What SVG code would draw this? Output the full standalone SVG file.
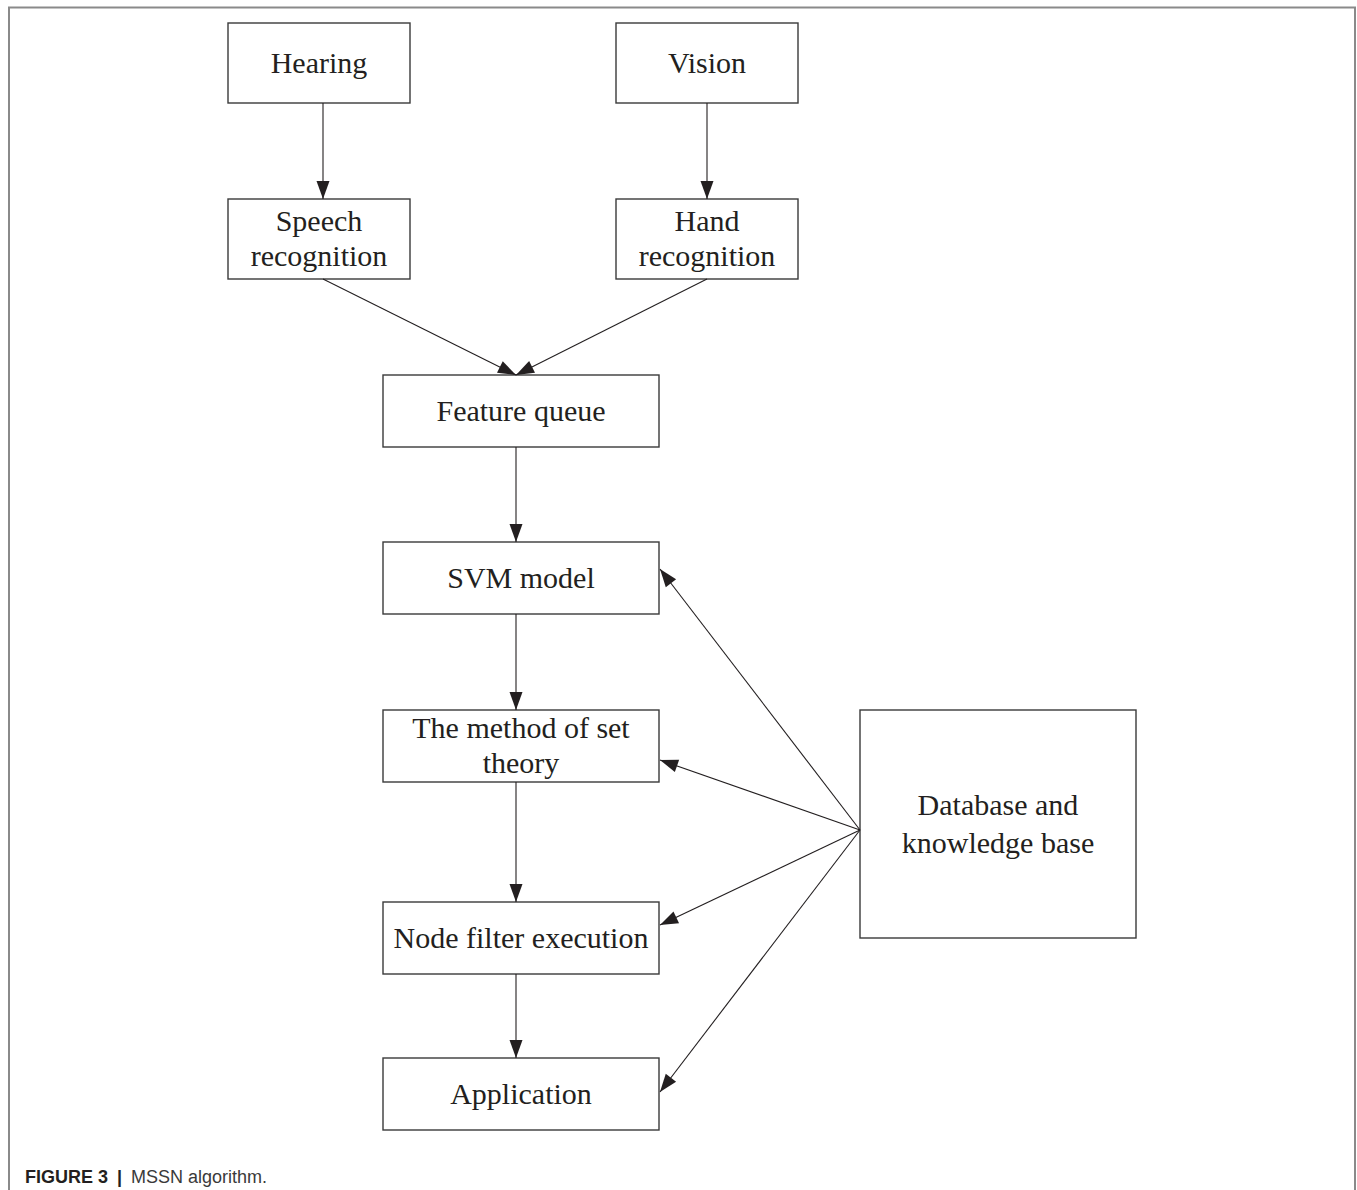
<svg xmlns="http://www.w3.org/2000/svg" width="1357" height="1190" viewBox="0 0 1357 1190">
<style>
.box{fill:#fff;stroke:#3a3a3a;stroke-width:1.4}
.lbl{font-family:"Liberation Serif","Times New Roman",serif;font-size:30px;fill:#231f20;text-anchor:middle}
.conn line{stroke:#231f20;stroke-width:1.1;marker-end:url(#ah)}
.frame{stroke:#8a8a8a;stroke-width:2;fill:none}
.cap{font-family:"Liberation Sans",Arial,sans-serif;font-size:18px;fill:#231f20}
</style>
<defs>
<marker id="ah" markerUnits="userSpaceOnUse" markerWidth="20" markerHeight="14" refX="18" refY="6.5" orient="auto" overflow="visible">
<path d="M0,0 L18,6.5 L0,13 z" fill="#231f20"/>
</marker>
</defs>
<rect width="1357" height="1190" fill="#fff"/>
<path class="frame" d="M9,1190 V7.5 H1355 V1190"/>
<g id="hearing"><rect class="box" x="228" y="23" width="182" height="80"/><text class="lbl" x="319" y="73">Hearing</text></g>
<g id="vision"><rect class="box" x="616" y="23" width="182" height="80"/><text class="lbl" x="707" y="73">Vision</text></g>
<g id="speech"><rect class="box" x="228" y="199" width="182" height="80"/><text class="lbl" x="319" y="231">Speech</text><text class="lbl" x="319" y="266">recognition</text></g>
<g id="hand"><rect class="box" x="616" y="199" width="182" height="80"/><text class="lbl" x="707" y="231">Hand</text><text class="lbl" x="707" y="266">recognition</text></g>
<g id="feature"><rect class="box" x="383" y="375" width="276" height="72"/><text class="lbl" x="521" y="421">Feature queue</text></g>
<g id="svm"><rect class="box" x="383" y="542" width="276" height="72"/><text class="lbl" x="521" y="588">SVM model</text></g>
<g id="method"><rect class="box" x="383" y="710" width="276" height="72"/><text class="lbl" x="521" y="738">The method of set</text><text class="lbl" x="521" y="773">theory</text></g>
<g id="nodefilter"><rect class="box" x="383" y="902" width="276" height="72"/><text class="lbl" x="521" y="948">Node filter execution</text></g>
<g id="application"><rect class="box" x="383" y="1058" width="276" height="72"/><text class="lbl" x="521" y="1104">Application</text></g>
<g id="database"><rect class="box" x="860" y="710" width="276" height="228"/><text class="lbl" x="998" y="815">Database and</text><text class="lbl" x="998" y="853">knowledge base</text></g>
<g id="connectors" class="conn">
<line x1="323" y1="103" x2="323" y2="199"/>
<line x1="707" y1="103" x2="707" y2="199"/>
<line x1="323" y1="279" x2="516" y2="375"/>
<line x1="707" y1="279" x2="516" y2="375"/>
<line x1="516" y1="447" x2="516" y2="542"/>
<line x1="516" y1="614" x2="516" y2="710"/>
<line x1="516" y1="782" x2="516" y2="902"/>
<line x1="516" y1="974" x2="516" y2="1058"/>
<line x1="860" y1="830" x2="660" y2="569"/>
<line x1="860" y1="830" x2="660" y2="760"/>
<line x1="860" y1="830" x2="660" y2="925"/>
<line x1="860" y1="830" x2="660" y2="1092"/>
</g>
<text class="cap" x="25" y="1183"><tspan font-weight="bold">FIGURE 3</tspan><tspan dx="9" font-weight="bold">|</tspan><tspan dx="9" fill="#3a3a3a">MSSN algorithm.</tspan></text>
</svg>
